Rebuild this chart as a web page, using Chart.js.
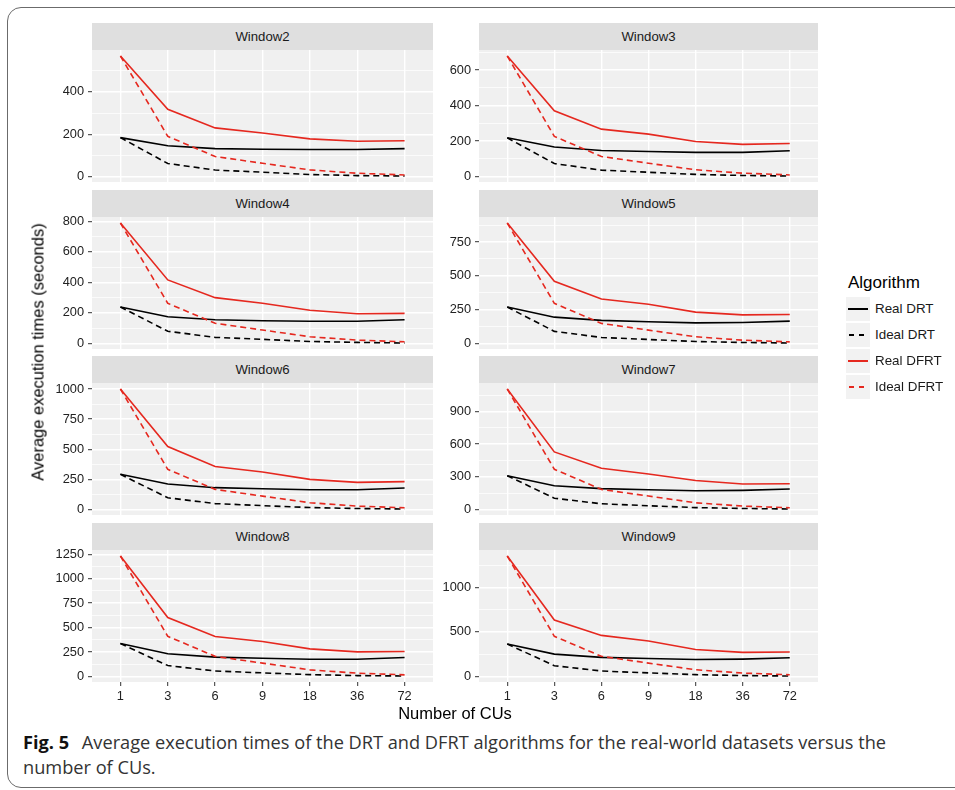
<!DOCTYPE html>
<html lang="en">
<head>
<meta charset="UTF-8">
<title>Fig. 5 - Average execution times</title>
<script src="https://cdn.jsdelivr.net/npm/chart.js"></script>
<style>
  body { margin: 0; width: 955px; height: 790px; overflow: hidden; background: #fff;
         position: relative; font-family: "Liberation Sans", Arial, sans-serif; }
  .frame { position: absolute; left: 7px; top: 7px; width: 1000px; height: 781px;
           border: 1.5px solid #6b6b6b; border-radius: 14px; box-sizing: border-box; }
  .strip { position: absolute; height: 27px; line-height: 27px; background: #dfdfdf;
           text-align: center; font-size: 13.2px; color: #1a1a1a; }
  .panel { position: absolute; }
  .ytitle { position: absolute; left: 38px; top: 352px; transform: translate(-50%, -50%) rotate(-90deg);
            white-space: nowrap; font-size: 16.5px; color: #000; }
  .xtitle { position: absolute; left: 455px; top: 713px; transform: translate(-50%, -50%);
            white-space: nowrap; font-size: 16.5px; color: #000; }
  .legend { position: absolute; left: 846px; top: 271px; }
  .legend .title { font-size: 17px; color: #000; margin-left: 2px; height: 26px; line-height: 24px; }
  .legend .item { position: relative; height: 26px; }
  .legend .key { position: absolute; left: 0; top: 0; width: 24px; height: 24px; background: #f2f2f2; }
  .legend .key i { position: absolute; left: 2px; top: 11px; width: 20px; height: 1.6px; }
  .legend .lab { position: absolute; left: 29px; top: 0; line-height: 24px; font-size: 13.4px; color: #1a1a1a; white-space: nowrap; }
  .caption { position: absolute; left: 23px; top: 730px; font-family: "Open Sans", sans-serif;
             font-size: 18.2px; line-height: 25px; color: #333; white-space: nowrap; }
  .caption b { color: #111; margin-right: 8px; }
</style>
</head>
<body>
<div class="frame"></div>
<div id="plots"></div>
<div class="ytitle">Average execution times (seconds)</div>
<div class="xtitle">Number of CUs</div>
<div class="legend" id="legend"><div class="title">Algorithm</div></div>
<div class="caption"><b>Fig. 5</b> Average execution times of the DRT and DFRT algorithms for the real-world datasets versus the<br>number of CUs.</div>

<script>
const cus = ['1', '3', '6', '9', '18', '36', '72'];
const windows = ['Window2', 'Window3', 'Window4', 'Window5', 'Window6', 'Window7', 'Window8', 'Window9'];

// one row per window, one value per CU count
const realDRT = [
  [184, 146, 132, 129, 128, 128, 132],
  [218, 166, 147, 141, 136, 136, 145],
  [239, 175, 155, 149, 145, 145, 155],
  [270, 195, 171, 161, 153, 156, 166],
  [292, 211, 181, 172, 164, 164, 178],
  [310, 218, 191, 181, 172, 175, 187],
  [337, 232, 198, 187, 177, 177, 194],
  [364, 251, 214, 202, 191, 195, 210]
];
const idealDRT = [
  [184, 62, 31, 21, 10, 5, 3],
  [218, 73, 36, 24, 12, 6, 3],
  [239, 80, 40, 27, 13, 7, 3],
  [270, 90, 45, 30, 15, 8, 4],
  [292, 97, 49, 32, 16, 8, 4],
  [310, 103, 52, 34, 17, 9, 4],
  [337, 112, 56, 37, 19, 9, 5],
  [364, 121, 61, 40, 20, 10, 5]
];
const realDFRT = [
  [569, 318, 230, 206, 178, 167, 169],
  [679, 370, 267, 239, 197, 181, 186],
  [789, 416, 300, 263, 217, 195, 197],
  [891, 460, 329, 290, 232, 212, 215],
  [1000, 522, 356, 311, 250, 225, 231],
  [1106, 528, 378, 325, 265, 233, 236],
  [1233, 603, 409, 358, 283, 252, 255],
  [1353, 634, 461, 398, 303, 270, 274]
];
const idealDFRT = [
  [569, 190, 95, 63, 32, 16, 8],
  [679, 226, 113, 75, 38, 19, 9],
  [789, 263, 132, 88, 44, 22, 11],
  [891, 297, 149, 99, 50, 25, 12],
  [1000, 333, 167, 111, 56, 28, 14],
  [1106, 369, 184, 123, 61, 31, 15],
  [1233, 411, 206, 137, 68, 34, 17],
  [1353, 451, 226, 150, 75, 38, 19]
];
const yBreaks = [
  [0, 200, 400],
  [0, 200, 400, 600],
  [0, 200, 400, 600, 800],
  [0, 250, 500, 750],
  [0, 250, 500, 750, 1000],
  [0, 300, 600, 900],
  [0, 250, 500, 750, 1000, 1250],
  [0, 500, 1000]
];

const RED = '#e5281f';
const BLACK = '#000000';
const series = [
  { label: 'Real DFRT', rows: realDFRT, color: RED, dash: [] },
  { label: 'Ideal DFRT', rows: idealDFRT, color: RED, dash: [6, 4] },
  { label: 'Real DRT', rows: realDRT, color: BLACK, dash: [] },
  { label: 'Ideal DRT', rows: idealDRT, color: BLACK, dash: [6, 4] }
];

const panelBg = {
  id: 'panelBg',
  beforeDraw(chart) {
    const { ctx, chartArea: a } = chart;
    ctx.save();
    ctx.fillStyle = '#f0f0f0';
    ctx.fillRect(a.left, a.top, a.width, a.height);
    ctx.restore();
  }
};

const plots = document.getElementById('plots');
const tickFont = { family: '"Liberation Sans", Arial, sans-serif', size: 12.8 };
const PAD = 12; // room kept round the plot for the end tick labels

windows.forEach((name, i) => {
  const col = i % 2, row = Math.floor(i / 2);
  const isBottom = row === 3;
  const plotLeft = col === 0 ? 92 : 479;
  const plotRight = col === 0 ? 433 : 818;
  const axisW = col === 0 ? 52 : 46;
  const stripTop = 23 + row * 166.7;
  const plotTop = stripTop + 27;

  const strip = document.createElement('div');
  strip.className = 'strip';
  strip.style.left = plotLeft + 'px';
  strip.style.top = stripTop + 'px';
  strip.style.width = (plotRight - plotLeft) + 'px';
  strip.textContent = name;

  const box = document.createElement('div');
  box.className = 'panel';
  const h = PAD + 132 + (isBottom ? 24 : PAD);
  box.style.left = (plotLeft - axisW) + 'px';
  box.style.top = (plotTop - PAD) + 'px';
  box.style.width = (plotRight - plotLeft + axisW) + 'px';
  box.style.height = h + 'px';
  const cv = document.createElement('canvas');
  box.appendChild(cv);
  plots.appendChild(box);
  plots.appendChild(strip);

  // free y scale: data range plus 5% either side, as ggplot does
  const all = series.flatMap(s => s.rows[i]);
  const lo = Math.min(...all), hi = Math.max(...all);
  const pad = (hi - lo) * 0.05;
  const yMin = lo - pad, yMax = hi + pad;
  const majors = yBreaks[i];
  const step = majors[1] - majors[0];
  const minors = [];
  for (let v = majors[0] - step / 2; v <= yMax; v += step) if (v >= yMin) minors.push(v);
  const yTicks = majors.concat(minors).sort((a, b) => a - b);
  const isMajor = v => majors.includes(v);

  new Chart(cv, {
    type: 'line',
    data: {
      datasets: series.map(s => ({
        label: s.label,
        data: s.rows[i].map((v, k) => ({ x: k, y: v })),
        borderColor: s.color,
        borderDash: s.dash,
        borderWidth: 1.6,
        pointRadius: 0,
        tension: 0,
        fill: false
      }))
    },
    options: {
      responsive: true,
      maintainAspectRatio: false,
      animation: false,
      layout: { padding: { top: PAD, bottom: isBottom ? 0 : PAD, left: 0, right: 0 } },
      plugins: { legend: { display: false }, tooltip: { enabled: false } },
      scales: {
        x: {
          type: 'linear',
          min: -0.6,
          max: 6.6,
          afterBuildTicks: s => { s.ticks = cus.map((c, k) => ({ value: k })); },
          afterFit: s => { s.height = isBottom ? 24 : 0; },
          ticks: { display: isBottom, callback: v => cus[v], color: '#222', font: tickFont,
                   padding: 3, autoSkip: false, maxRotation: 0 },
          grid: { color: '#ffffff', lineWidth: 1.4, drawTicks: isBottom, tickLength: 4,
                  tickColor: '#333', tickWidth: 1 },
          border: { display: false }
        },
        y: {
          min: yMin,
          max: yMax,
          afterBuildTicks: s => { s.ticks = yTicks.map(v => ({ value: v })); },
          afterFit: s => { s.width = axisW; },
          ticks: { callback: v => isMajor(v) ? String(v) : '', color: '#222', font: tickFont,
                   padding: 4, autoSkip: false },
          grid: {
            color: '#ffffff',
            lineWidth: c => isMajor(c.tick.value) ? 1.4 : 0.7,
            tickLength: 4,
            tickColor: c => isMajor(c.tick.value) ? '#333' : 'rgba(0,0,0,0)',
            tickWidth: 1
          },
          border: { display: false }
        }
      }
    },
    plugins: [panelBg]
  });
});

// legend in ggplot order
const legendOrder = ['Real DRT', 'Ideal DRT', 'Real DFRT', 'Ideal DFRT'];
const legend = document.getElementById('legend');
legendOrder.forEach(lbl => {
  const s = series.find(d => d.label === lbl);
  const item = document.createElement('div');
  item.className = 'item';
  const key = document.createElement('div');
  key.className = 'key';
  const ln = document.createElement('i');
  ln.style.background = s.dash.length
    ? `repeating-linear-gradient(to right, ${s.color} 0 5px, transparent 5px 10px)`
    : s.color;
  if (s.dash.length) { ln.style.left = '3px'; ln.style.width = '15px'; }
  key.appendChild(ln);
  const lab = document.createElement('div');
  lab.className = 'lab';
  lab.textContent = lbl;
  item.appendChild(key);
  item.appendChild(lab);
  legend.appendChild(item);
});
</script>
</body>
</html>
